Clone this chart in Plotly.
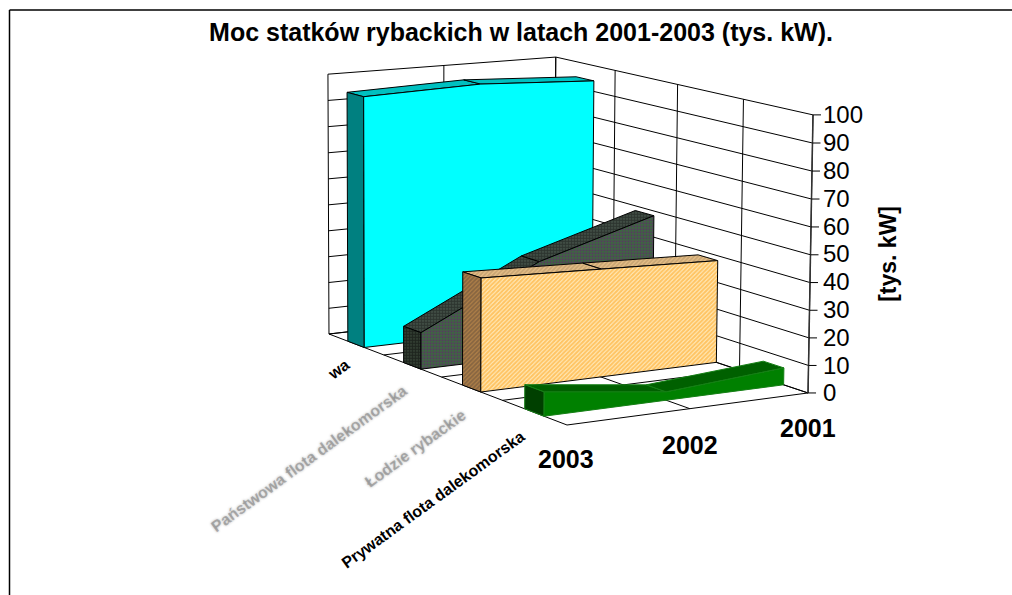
import plotly.graph_objects as go

# ---- chart data ----
title = "Moc statków rybackich w latach 2001-2003 (tys. kW)."
years = ["2003", "2002", "2001"]
categories = ["Prywatna flota dalekomorska", "Łodzie rybackie",
              "Państwowa flota dalekomorska", "wa"]
prywatna = [8.6, 3.0, 6.2]
lodzie = [41.3, 39.8, 38.2]
panstwowa = [13.6, 35.3, 48.2]
czwarta = [95.0, 96.3, 94.1]
value_ticks = [0, 10, 20, 30, 40, 50, 60, 70, 80, 90, 100]
axis_title = "[tys. kW]"

W, H = 1012, 595
VMAX = 100.0

# 3-D view of the chart box: perspective projection of (category, year, value)
O = (567.0, 425.0)
A = (-200.4, -52.8)
B = (272.8, -16.6)
C = (-5.4, -290.5)
WA, WB, WC = 0.1144, 0.0393, -0.01297


def proj(a, b, v):
    c = v / VMAX
    w = 1 + WA * a + WB * b + WC * c
    return ((O[0] + A[0] * a + B[0] * b + C[0] * c) / w,
            (O[1] + A[1] * a + B[1] * b + C[1] * c) / w)


def path(points):
    pts = [proj(*p) for p in points]
    return [p[0] for p in pts], [p[1] for p in pts]


fig = go.Figure()


def add_poly(points, fill, line="#000000", lw=1, pattern=None):
    x, y = path(points + [points[0]])
    kw = dict(fillpattern=pattern) if pattern else {}
    fig.add_trace(go.Scatter(x=x, y=y, mode="lines", fill="toself", fillcolor=fill,
                             line=dict(color=line, width=lw), hoverinfo="skip",
                             showlegend=False, **kw))


def add_lines(segments, color="#000000", lw=1):
    xs, ys = [], []
    for seg in segments:
        x, y = path(seg)
        xs += x + [None]
        ys += y + [None]
    fig.add_trace(go.Scatter(x=xs, y=ys, mode="lines", line=dict(color=color, width=lw),
                             hoverinfo="skip", showlegend=False))


n_cat = len(categories)
n_year = len(years)
a_steps = [i / n_cat for i in range(n_cat + 1)]
b_steps = [i / (n_year - 1) for i in range(n_year)]

# walls + floor gridlines
grid = []
for v in value_ticks:
    grid.append([(1, 0, v), (1, 1, v)])
    grid.append([(1, 1, v), (0, 1, v)])
for b in b_steps:
    grid.append([(1, b, 0), (1, b, VMAX)])
    grid.append([(0, b, 0), (1, b, 0)])
for a in a_steps:
    grid.append([(a, 1, 0), (a, 1, VMAX)])
    grid.append([(a, 0, 0), (a, 1, 0)])
add_lines(grid, "#000000", 1)

DEPTH = 0.075


def add_series(values, idx, front, side, top, line="#000000", lw=1,
               front_pat=None, side_pat=None, top_pat=None):
    center = (idx + 0.5) / n_cat
    a0, a1 = center - DEPTH / 2, center + DEPTH / 2
    for i in range(n_year - 1):
        add_poly([(a0, b_steps[i], values[i]), (a1, b_steps[i], values[i]),
                  (a1, b_steps[i + 1], values[i + 1]), (a0, b_steps[i + 1], values[i + 1])],
                 top, line, lw, top_pat)
    add_poly([(a0, 0, 0), (a1, 0, 0), (a1, 0, values[0]), (a0, 0, values[0])],
             side, line, lw, side_pat)
    outline = [(a0, 0, 0), (a0, 1, 0)] + [(a0, b_steps[i], values[i]) for i in range(n_year - 1, -1, -1)]
    add_poly(outline, front, line, lw, front_pat)


def hatch(shape, fg, bg, size, solidity):
    return dict(shape=shape, fgcolor=fg, bgcolor=bg, size=size, solidity=solidity)


add_series(czwarta, 3, "#00FFFF", "#008080", "#00C0C0")
add_series(panstwowa, 2, "#4F6A5A", "#333333", "#3F453F",
           front_pat=hatch(".", "#701080", "#2F7F2F", 3, 0.75),
           side_pat=hatch(".", "#000000", "#3C4A3C", 3, 0.7),
           top_pat=hatch(".", "#101010", "#4A5A4F", 3, 0.7))
add_series(lodzie, 1, "#FFCF80", "#8F7355", "#D0A878",
           front_pat=hatch("/", "#FF9900", "#FFEFC8", 3, 0.7),
           side_pat=hatch("/", "#5E4A3A", "#B08048", 3, 0.6),
           top_pat=hatch("/", "#A88A60", "#E8C088", 3, 0.6))
add_series(prywatna, 0, "#008000", "#004000", "#006000", line="#157F15", lw=1)

# value axis line and its tick marks
add_lines([[(0, 1, 0), (0, 1, VMAX)]], "#333333", 1.5)
tx, ty = [], []
for v in value_ticks:
    p = proj(0, 1, v)
    tx += [p[0], p[0] + 8, None]
    ty += [p[1], p[1], None]
fig.add_trace(go.Scatter(x=tx, y=ty, mode="lines", line=dict(color="#000000", width=1),
                         hoverinfo="skip", showlegend=False))

# value axis (labels and title) from plotly's own linear axis
y0 = proj(0, 1, 0)[1]
y1 = proj(0, 1, VMAX)[1]
fig.add_trace(go.Scatter(x=[proj(0, 1, v)[0] for v in value_ticks], y=value_ticks, yaxis="y2",
                         mode="markers", marker=dict(size=1, opacity=0), hoverinfo="skip",
                         showlegend=False))

ARIAL = "Liberation Sans, Arial, sans-serif"
for yr, b, (lx, ly) in zip(years, b_steps, [(566, 459), (690, 445), (808, 428)]):
    fig.add_annotation(x=lx, y=ly, text=f"<b>{yr}</b>", showarrow=False, xref="x", yref="y",
                       font=dict(family=ARIAL, size=25, color="#000000"))

cat_pos = [(433, 499), (415, 448), (309, 458), (338, 369)]
for i, (name, (lx, ly)) in enumerate(zip(categories, cat_pos)):
    blurred = i in (1, 2)
    font = dict(family=ARIAL, size=16, color="#000000")
    if blurred:
        font = dict(family=ARIAL, size=16, color="rgba(50,50,50,0.3)",
                    shadow="0 0 2.5px rgba(10,10,10,1)")
    fig.add_annotation(x=lx, y=ly, text=f"<b>{name}</b>", showarrow=False, xref="x", yref="y",
                       textangle=-36, font=font)

fig.update_layout(
    width=W, height=H, margin=dict(l=0, r=0, t=0, b=0, autoexpand=False),
    paper_bgcolor="#ffffff", plot_bgcolor="rgba(0,0,0,0)",
    title=dict(text=f"<b>{title}</b>", x=521 / W, xanchor="center", y=1 - 32 / H, yanchor="middle",
               font=dict(family=ARIAL, size=25, color="#000000")),
    xaxis=dict(range=[0, W], visible=False, fixedrange=True),
    yaxis=dict(range=[H, 0], visible=False, fixedrange=True),
    yaxis2=dict(side="right", anchor="free", position=822 / W,
                domain=[(H - y0) / H, (H - y1) / H], range=[0, VMAX], tickvals=value_ticks,
                showgrid=False, zeroline=False, showline=False, ticks="",
                tickfont=dict(family=ARIAL, size=24, color="#000000"),
                title=dict(text=f"<b>{axis_title}</b>", standoff=17,
                           font=dict(family=ARIAL, size=23, color="#000000")),
                fixedrange=True),
    shapes=[
        dict(type="line", xref="paper", yref="paper", x0=9.5 / W, x1=1, y0=1 - 10 / H, y1=1 - 10 / H,
             line=dict(color="#000000", width=1.5)),
        dict(type="line", xref="paper", yref="paper", x0=9.5 / W, x1=9.5 / W, y0=0, y1=1 - 10 / H,
             line=dict(color="#000000", width=1.5)),
    ],
)
fig.write_html("out.html", config=dict(displayModeBar=False),
               post_script="document.body.style.margin='0';document.body.style.overflow='hidden';")
